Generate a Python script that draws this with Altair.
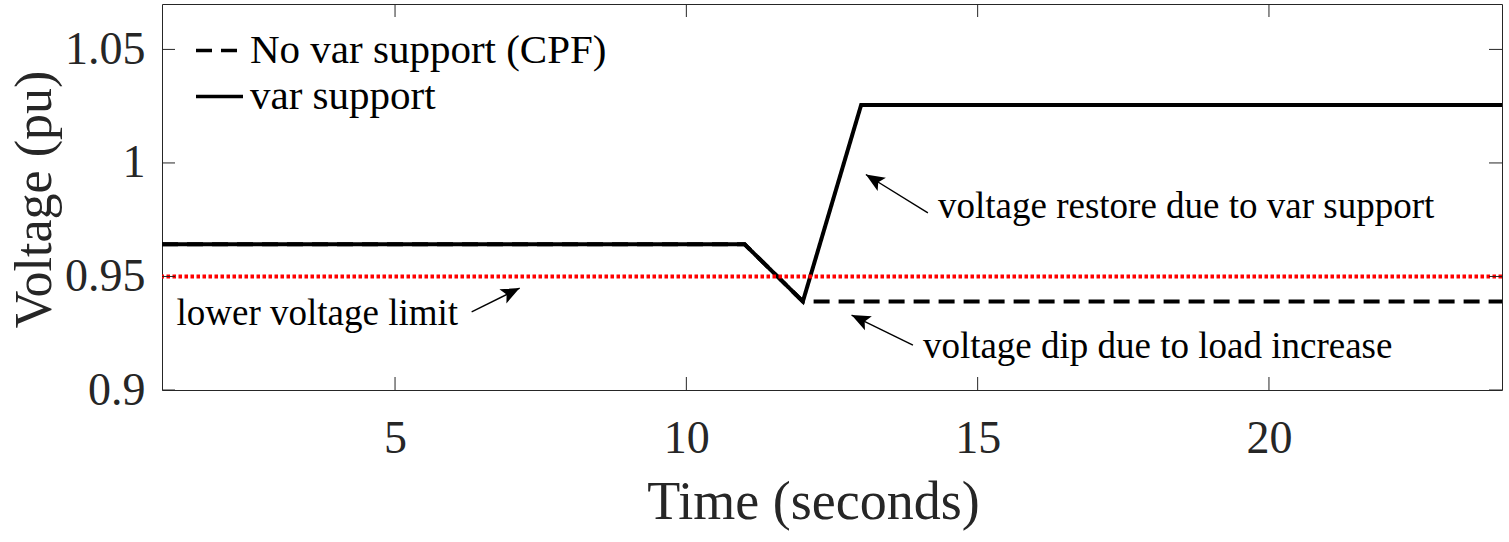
import math
import altair as alt
import pandas as pd

# Bus voltage with and without reactive power support
time_cpf = [1, 11, 12, 24]
volt_cpf = [0.9642, 0.9642, 0.939, 0.939]
time_var = [1, 11, 12, 13, 24]
volt_var = [0.9642, 0.9642, 0.939, 1.0255, 1.0255]
series_names = ["No var support (CPF)", "var support"]

lower_limit = 0.95
x_ticks = [5, 10, 15, 20]
y_ticks = [0.9, 0.95, 1.0, 1.05]
x_domain = [1, 24]
y_domain = [0.9, 1.07]

# Annotations: label anchor and arrow (tail -> head)
note_text = [
    "lower voltage limit",
    "voltage restore due to var support",
    "voltage dip due to load increase",
]
note_x = [1.25, 14.32, 14.06]
note_y = [0.9286, 0.9757, 0.9141]
arrow_x0 = [6.315, 14.146, 13.889]
arrow_y0 = [0.9344, 0.9780, 0.9198]
arrow_x1 = [7.139, 13.081, 12.836]
arrow_y1 = [0.9449, 0.9949, 0.9330]

W, H = 1340, 386
FONT = "Liberation Serif"
AXIS_COLOR = "#262626"

xscale = alt.Scale(domain=x_domain, nice=False, zero=False)
yscale = alt.Scale(domain=y_domain, nice=False, zero=False)

x_axis = alt.Axis(
    values=x_ticks, format="d", ticks=False, tickSize=0, domain=False, grid=False,
    labelFont=FONT, labelFontSize=46, labelColor=AXIS_COLOR,
    labelBaseline="alphabetic", labelPadding=62, labelOverlap=False,
    title="Time (seconds)", titleFont=FONT, titleFontSize=54,
    titleFontWeight="normal", titleColor=AXIS_COLOR,
    titleX=651, titleY=128, titleAlign="center", titleBaseline="alphabetic",
)
y_axis = alt.Axis(
    values=y_ticks, format="~g", ticks=False, tickSize=0, domain=False, grid=False,
    labelFont=FONT, labelFontSize=46, labelColor=AXIS_COLOR,
    labelBaseline="middle", labelPadding=17, labelOverlap=False,
    title="Voltage (pu)", titleFont=FONT, titleFontSize=52,
    titleFontWeight="normal", titleColor=AXIS_COLOR,
    titleX=-112, titleY=195, titleAngle=270, titleAlign="center",
    titleBaseline="alphabetic",
)


def X(field):
    return alt.X(field, scale=xscale, axis=x_axis)


def Y(field):
    return alt.Y(field, scale=yscale, axis=y_axis)


lines_df = pd.concat(
    [
        pd.DataFrame({"time": time_cpf, "voltage": volt_cpf, "series": series_names[0]}),
        pd.DataFrame({"time": time_var, "voltage": volt_var, "series": series_names[1]}),
    ],
    ignore_index=True,
)

lines = alt.Chart(lines_df).mark_line(
    color="black", strokeWidth=4, strokeCap="butt", strokeJoin="miter"
).encode(
    x=X("time:Q"),
    y=Y("voltage:Q"),
    strokeDash=alt.StrokeDash(
        "series:N",
        scale=alt.Scale(domain=series_names, range=[[16, 9], [1, 0]]),
        legend=alt.Legend(
            title=None, orient="none", legendX=32, legendY=21,
            symbolType="stroke", symbolSize=2209, symbolStrokeWidth=3.5,
            symbolStrokeColor="black", labelFont=FONT, labelFontSize=41,
            labelColor="black", labelOffset=5, labelLimit=1000,
            rowPadding=0, padding=0,
        ),
    ),
)

limit = alt.Chart(pd.DataFrame({"v": [lower_limit]})).mark_rule(
    color="#ff0000", strokeWidth=4, strokeDash=[3.5, 2.5]
).encode(y=Y("v:Q"))

# Inward tick marks on all four sides of the box
xt = pd.DataFrame({"t": x_ticks})
yt = pd.DataFrame({"t": y_ticks})
tick_style = dict(color=AXIS_COLOR, strokeWidth=1)
ticks_bottom = alt.Chart(xt).mark_rule(**tick_style).encode(
    x=X("t:Q"), y=alt.value(H), y2=alt.value(H - 13))
ticks_top = alt.Chart(xt).mark_rule(**tick_style).encode(
    x=X("t:Q"), y=alt.value(0), y2=alt.value(13))
ticks_left = alt.Chart(yt).mark_rule(**tick_style).encode(
    y=Y("t:Q"), x=alt.value(0), x2=alt.value(13))
ticks_right = alt.Chart(yt).mark_rule(**tick_style).encode(
    y=Y("t:Q"), x=alt.value(W), x2=alt.value(W - 13))

# Arrow heads point along the arrow in screen space
px_x = W / (x_domain[1] - x_domain[0])
px_y = H / (y_domain[1] - y_domain[0])
angles = []
for a, b, c, d in zip(arrow_x0, arrow_y0, arrow_x1, arrow_y1):
    dx = (c - a) * px_x
    dy = -(d - b) * px_y
    angles.append(math.degrees(math.atan2(dx, -dy)) % 360)

arrows_df = pd.DataFrame({
    "x0": arrow_x0, "y0": arrow_y0, "x1": arrow_x1, "y1": arrow_y1, "angle": angles,
})
notes_df = pd.DataFrame({"text": note_text, "x": note_x, "y": note_y})

arrow_shafts = alt.Chart(arrows_df).mark_rule(color="black", strokeWidth=1.4).encode(
    x=X("x0:Q"), y=Y("y0:Q"), x2="x1:Q", y2="y1:Q",
)
arrow_heads = alt.Chart(arrows_df).mark_point(
    shape="M0,0 L-0.42,1 L0,0.78 L0.42,1 Z", size=1400, filled=True,
    color="black", opacity=1, strokeWidth=0,
).encode(
    x=X("x1:Q"), y=Y("y1:Q"),
    angle=alt.Angle("angle:Q", scale=None),
)
labels = alt.Chart(notes_df).mark_text(
    align="left", baseline="alphabetic", font=FONT, fontSize=37, color="black"
).encode(
    x=X("x:Q"), y=Y("y:Q"), text="text:N",
)

chart = alt.layer(
    lines, limit, ticks_bottom, ticks_top, ticks_left, ticks_right,
    arrow_shafts, arrow_heads, labels,
).properties(
    width=W, height=H, autosize="none",
    padding={"left": 162, "top": 4, "right": 7, "bottom": 152},
    background="white",
).configure_view(stroke=AXIS_COLOR, strokeWidth=1)

chart.save("out.html", embed_options={"renderer": "svg", "actions": False})
